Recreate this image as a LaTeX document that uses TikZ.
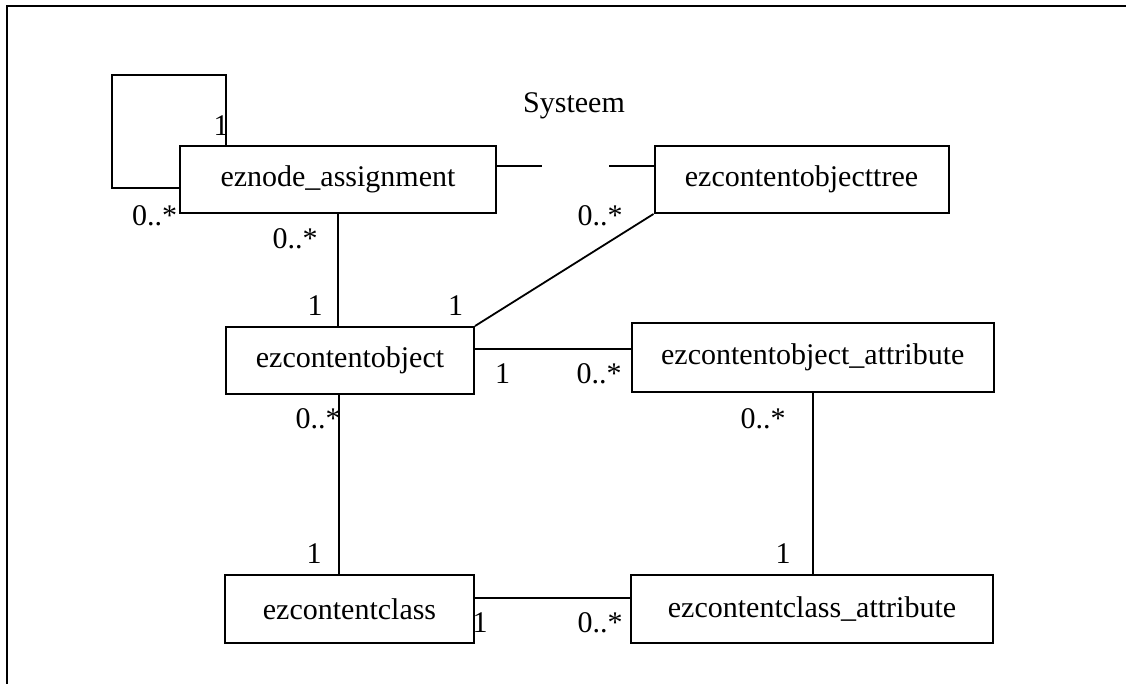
\documentclass[tikz,border=0pt]{standalone}
\usepackage{fontspec}
\setmainfont{Liberation Serif}
\begin{document}
\begin{tikzpicture}[x=1pt,y=-1pt,
  cls/.style={draw,line width=2pt,rectangle,inner sep=0pt,font=\fontsize{30}{36}\selectfont},
  conn/.style={line width=1.8pt},
  mult/.style={anchor=base,inner sep=0pt,font=\fontsize{30}{36}\selectfont}]
\useasboundingbox (0,0) rectangle (1126,683);
\fill[white] (0,0) rectangle (1126,683);
\draw[line width=2.2pt] (7,690) -- (7,6) -- (1130,6);
% classes
\node[cls,minimum width=316pt,minimum height=67pt] (ena) at (338,179.5) {eznode\_assignment};
\node[cls,minimum width=294pt,minimum height=67pt] (tree) at (801.5,179.5) {ezcontentobjecttree};
\node[cls,minimum width=248pt,minimum height=67pt] (obj) at (350,360.5) {ezcontentobject};
\node[cls,minimum width=362pt,minimum height=69pt] (oattr) at (812.75,357.5) {ezcontentobject\_attribute};
\node[cls,minimum width=249pt,minimum height=68pt] (ccls) at (349.5,609) {ezcontentclass};
\node[cls,minimum width=362pt,minimum height=68pt] (cattr) at (812,609) {ezcontentclass\_attribute};
\node[mult] (sys) at (574,112) {Systeem};
% connectors
\coordinate (l1) at (112,188);
\coordinate (l2) at (112,75);
\coordinate (l3) at (226,75);
\draw[conn] (ena.west |- l1) -- (l1) -- (l2) -- (l3) -- (l3 |- ena.north);
\coordinate (g1) at (542,166);
\coordinate (g2) at (609,166);
\draw[conn] (ena.east |- g1) -- (g1);
\draw[conn] (g2) -- (g2 -| tree.west);
\draw[conn] (ena.south) -- (ena.south |- obj.north);
\draw[conn] (tree.south west) -- (obj.north east);
\coordinate (h1) at (0,349);
\draw[conn] (obj.east |- h1) -- (oattr.west |- h1);
\coordinate (v1) at (338.6,0);
\draw[conn] (obj.south -| v1) -- (ccls.north -| v1);
\draw[conn] (oattr.south) -- (oattr.south |- cattr.north);
\coordinate (h2) at (0,597.7);
\draw[conn] (ccls.east |- h2) -- (cattr.west |- h2);
% multiplicities
\node[mult] (m1) at (221,135) {1};
\node[mult] (m2) at (154.5,225) {0..*};
\node[mult] (m3) at (295,248) {0..*};
\node[mult] (m4) at (600,225) {0..*};
\node[mult] (m5) at (315,315) {1};
\node[mult] (m6) at (455.5,315) {1};
\node[mult] (m7) at (502.6,383) {1};
\node[mult] (m8) at (599,383) {0..*};
\node[mult] (m9) at (318,428) {0..*};
\node[mult] (m10) at (763,428) {0..*};
\node[mult] (m11) at (314,563) {1};
\node[mult] (m12) at (783,563) {1};
\node[mult] (m13) at (480,632) {1};
\node[mult] (m14) at (600,632) {0..*};
\end{tikzpicture}
\end{document}
